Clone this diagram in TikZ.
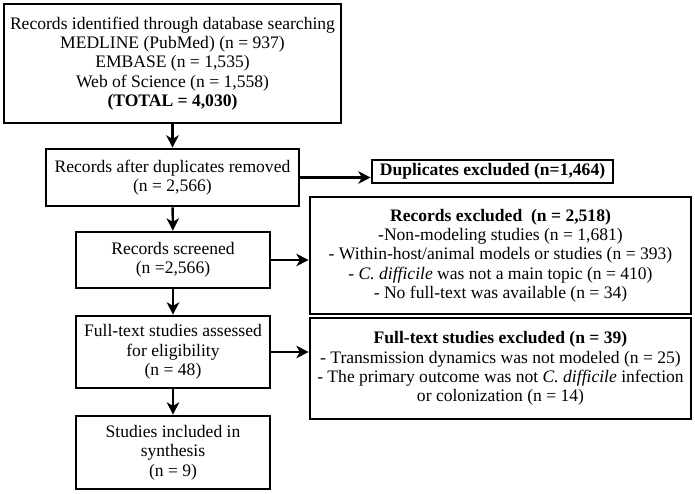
\documentclass[tikz,border=0pt]{standalone}
\usepackage{fontspec}
\setmainfont{Liberation Serif}
\usetikzlibrary{arrows.meta}
\tikzset{
  flowbox/.style={draw,line width=1.5pt,align=center,inner sep=0pt,font=\fontsize{10}{11}\selectfont},
  flowarrow/.style={line width=1.4pt,-{Stealth[length=7pt,width=7pt,inset=2pt]}}
}
\begin{document}
\begin{tikzpicture}[x=1cm,y=1cm]
\path[use as bounding box] (0,0) rectangle (13.90,9.86);
\fill[white] (0,0) rectangle (13.90,9.86);
% main column
\node[flowbox,minimum width=6.74cm,minimum height=2.38cm] (ident) at (3.45,8.59) {Records identified through database searching\\MEDLINE (PubMed) (n = 937)\\EMBASE (n = 1,535)\\Web of Science (n = 1,558)\\\textbf{(TOTAL = 4,030)}};
\node[flowbox,minimum width=5.06cm,minimum height=1.14cm] (dedup) at (3.45,6.31) {Records after duplicates removed\\(n = 2,566)};
\node[flowbox,minimum width=3.88cm,minimum height=1.12cm] (screen) at (3.46,4.66) {Records screened\\(n =2,566)};
\node[flowbox,minimum width=3.88cm,minimum height=1.44cm] (fulltext) at (3.46,2.82) {Full-text studies assessed\\for eligibility\\(n = 48)};
\node[flowbox,minimum width=3.88cm,minimum height=1.46cm] (incl) at (3.46,0.81) {Studies included in\\synthesis\\(n = 9)};
% exclusions
\node[flowbox,minimum width=4.82cm,minimum height=0.46cm] (dupex) at (9.85,6.43) {\textbf{Duplicates excluded (n=1,464)}};
\node[flowbox,minimum width=7.62cm,minimum height=2.34cm] (recex) at (10.01,4.75) {\textbf{Records excluded\ \ (n = 2,518)}\\-Non-modeling studies (n = 1,681)\\- Within-host/animal models or studies (n = 393)\\- \textit{C. difficile} was not a main topic (n = 410)\\- No full-text was available (n = 34)};
\node[flowbox,minimum width=7.62cm,minimum height=2.02cm] (ftex) at (10.01,2.49) {\textbf{Full-text studies excluded (n = 39)}\\- Transmission dynamics was not modeled (n = 25)\\- The primary outcome was not \textit{C. difficile} infection\\or colonization (n = 14)};
% arrows
\draw[flowarrow] (ident) -- (dedup);
\draw[flowarrow] (dedup) -- (screen);
\draw[flowarrow] (screen) -- (fulltext);
\draw[flowarrow] (fulltext) -- (incl);
\draw[flowarrow] (dedup.east) -- (dedup.east -| dupex.west);
\draw[flowarrow] (screen.east) -- (screen.east -| recex.west);
\draw[flowarrow] (fulltext.east) -- (fulltext.east -| ftex.west);
\end{tikzpicture}
\end{document}
